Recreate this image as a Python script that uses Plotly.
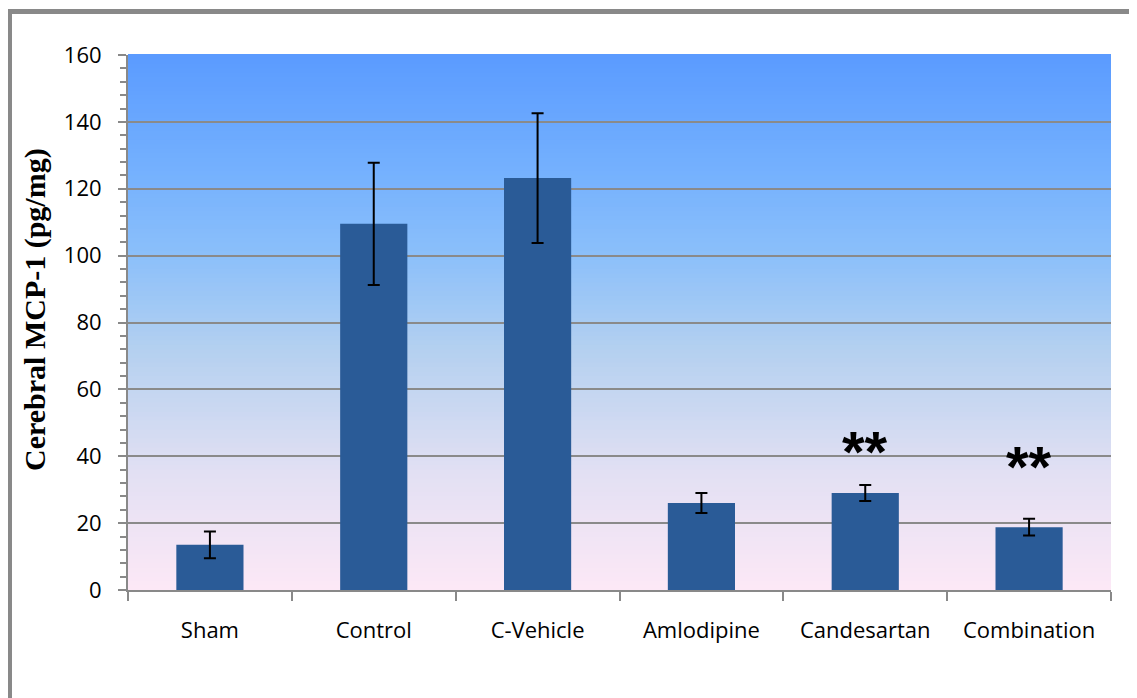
import plotly.graph_objects as go

categories = ["Sham", "Control", "C-Vehicle", "Amlodipine", "Candesartan", "Combination"]
mcp1_mean = [13.5, 109.5, 123.2, 26.0, 29.0, 18.8]
mcp1_err = [4.0, 18.3, 19.4, 3.0, 2.4, 2.5]
significance = ["", "", "", "", "**", "**"]
sig_y = [None, None, None, None, 31.1, 26.6]
y_ticks = [0, 20, 40, 60, 80, 100, 120, 140, 160]
y_title = "Cerebral MCP-1 (pg/mg)"

# background gradient colour stops (bottom -> top)
grad_stops = [(0.0, (252, 232, 246)), (0.22, (226, 224, 243)), (0.45, (180, 208, 240)),
              (0.62, (140, 192, 250)), (0.8, (114, 175, 254)), (1.0, (91, 155, 255))]


def grad_color(t):
    for (t0, c0), (t1, c1) in zip(grad_stops[:-1], grad_stops[1:]):
        if t0 <= t <= t1:
            f = (t - t0) / (t1 - t0) if t1 > t0 else 0
            c = [round(a + (b - a) * f) for a, b in zip(c0, c1)]
            return "rgb(%d,%d,%d)" % tuple(c)
    return "rgb(%d,%d,%d)" % grad_stops[-1][1]


L, T, PW, PH = 120, 47, 983, 535
W, H = 1137, 698

fig = go.Figure()
fig.add_trace(go.Bar(
    x=categories, y=mcp1_mean,
    marker=dict(color="#2a5b97", line=dict(width=0)),
    error_y=dict(type="data", array=mcp1_err, color="black", thickness=2, width=6),
    showlegend=False,
))

shapes = []
n_bands = 120
for i in range(n_bands):
    t0 = i / n_bands
    t1 = (i + 1) / n_bands
    shapes.append(dict(type="rect", xref="x domain", yref="y domain", x0=0, x1=1,
                       y0=t0, y1=t1 + 0.002, layer="below", line=dict(width=0),
                       fillcolor=grad_color((t0 + t1) / 2)))
# outer frame
shapes.append(dict(type="rect", xref="paper", yref="paper",
                   x0=(1.5 - L) / PW, x1=1.2, y0=-0.4, y1=(T + PH - 3.5) / PH,
                   line=dict(color="#898989", width=5), layer="above"))

annotations = []
for c, s, yv in zip(categories, significance, sig_y):
    if s:
        annotations.append(dict(x=c, y=yv, xref="x", yref="y", text="<b>" + s + "</b>",
                                showarrow=False, yanchor="bottom",
                                font=dict(family="Liberation Sans", size=58, color="black")))
# y-axis title
annotations.append(dict(x=(27 - L) / PW, y=(T + PH - 302) / PH, xref="paper", yref="paper",
                        text="<b>" + y_title + "</b>", textangle=-90, showarrow=False,
                        xanchor="center", yanchor="middle",
                        font=dict(family="Liberation Serif", size=30, color="black")))

fig.update_layout(
    width=W, height=H,
    margin=dict(l=L, r=W - L - PW, t=T, b=H - T - PH),
    paper_bgcolor="white", plot_bgcolor="white",
    bargap=0.59,
    shapes=shapes, annotations=annotations,
    font=dict(family="Open Sans", color="black"),
    xaxis=dict(
        tickson="boundaries", ticks="outside", ticklen=9, tickwidth=2, tickcolor="#898989",
        showline=True, linecolor="#898989", linewidth=2, showgrid=False,
        tickfont=dict(family="Open Sans", size=22, color="black"),
        ticklabelstandoff=20,
    ),
    yaxis=dict(
        range=[0, 160], tickvals=y_ticks, ticks="outside", ticklen=8, tickwidth=2,
        tickcolor="#898989", showline=True, linecolor="#898989", linewidth=2,
        showgrid=True, gridcolor="#8a8a8a", gridwidth=2, zeroline=False,
        minor=dict(dtick=4, ticks="outside", ticklen=6, tickwidth=2, tickcolor="#898989",
                   showgrid=False),
        tickfont=dict(family="Open Sans", size=22, color="black"),
        ticklabelstandoff=12,
    ),
)

fig.write_html("out.html")
